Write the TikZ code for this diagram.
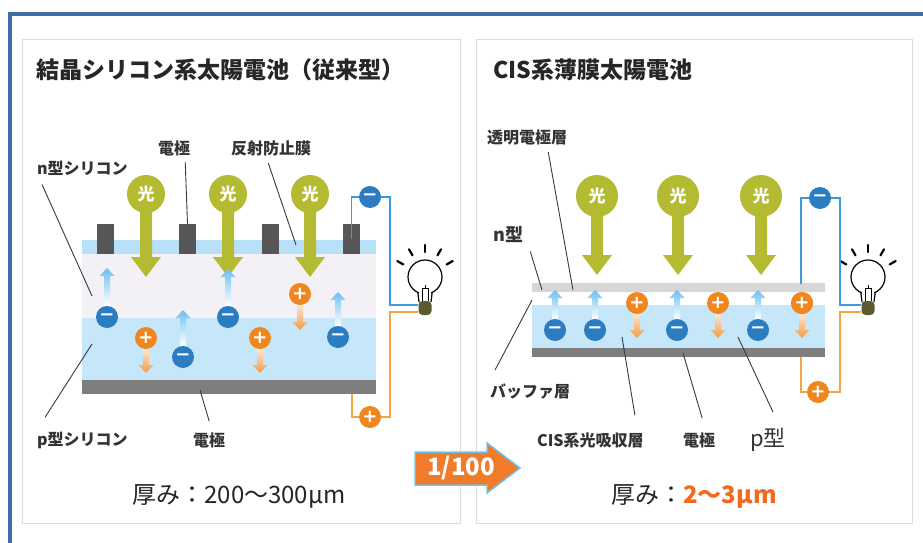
\documentclass[tikz,border=0pt]{standalone}
\usepackage{fontspec}
\setmainfont{Noto Sans CJK JP}
\newfontfamily\signfont{DejaVu Sans}

\definecolor{framec}{HTML}{3F6EA5}
\definecolor{panelgray}{HTML}{DCDCDC}
\definecolor{beamgreen}{HTML}{B4BA32}
\definecolor{filmblue}{HTML}{B8E0F8}
\definecolor{nlayer}{HTML}{F4F1F6}
\definecolor{player}{HTML}{C6E7F9}
\definecolor{electrodedark}{HTML}{565656}
\definecolor{electrodegray}{HTML}{7E7E7E}
\definecolor{tcogray}{HTML}{D7D7D7}
\definecolor{elecblue}{HTML}{2B7CC1}
\definecolor{holeorange}{HTML}{F0871E}
\definecolor{arrowblue}{HTML}{6DC0F0}
\definecolor{arroworange}{HTML}{F39B45}
\definecolor{wireblue}{HTML}{3C9BDB}
\definecolor{wireorange}{HTML}{F3A443}
\definecolor{ratioorange}{HTML}{EF7B2B}
\definecolor{ratioedge}{HTML}{6CC4EC}
\definecolor{thinorange}{HTML}{F26A1F}
\definecolor{leadergray}{HTML}{3A3A3A}
\definecolor{bulbolive}{HTML}{5C5A2E}

\begin{document}
\begin{tikzpicture}[x=1pt,y=-1pt,
    panel/.style={draw=panelgray,line width=1pt},
    title/.style={anchor=west,inner sep=0pt,text=black!85,font=\bfseries\fontsize{23pt}{25pt}\selectfont},
    label/.style={anchor=west,inner sep=1pt,font=\bfseries\fontsize{16pt}{18pt}\selectfont,text=black!80},
    leader/.style={draw=leadergray,line width=0.9pt},
    minus/.style={circle,fill=elecblue,text=white,minimum size=22pt,inner sep=0pt,
        font=\signfont\bfseries\fontsize{18pt}{18pt}\selectfont},
    plus/.style={minus,fill=holeorange},
    sun/.style={circle,fill=beamgreen,text=white,inner sep=0pt,font=\bfseries\fontsize{17pt}{17pt}\selectfont},
    topel/.style={fill=electrodedark,minimum width=17pt,minimum height=30pt,inner sep=0pt},
    socket/.style={fill=bulbolive,minimum width=13pt,minimum height=14pt,inner sep=0pt,rounded corners=4pt},
    bluewire/.style={draw=wireblue,line width=1.6pt},
    orangewire/.style={draw=wireorange,line width=1.6pt},
    thickness/.style={inner sep=0pt,text=black!85,font=\fontsize{24pt}{26pt}\selectfont}]
    \providecommand{\lightbeam}[5]{% name, x, circle y, tip y, radius
        \fill[beamgreen] (#2-6,#3) -- (#2-6,#4-20) -- (#2-15,#4-20) -- (#2,#4)
            -- (#2+15,#4-20) -- (#2+6,#4-20) -- (#2+6,#3) -- cycle;
        \node[sun,minimum size=2*#5] (#1) at (#2,#3) {光};}
    \providecommand{\elecarrow}[3]{% x, centre y, tip y
        \shade[top color=arrowblue,bottom color=white] (#1-3,#2-11) -- (#1-3,#3+8) -- (#1-7.5,#3+8)
            -- (#1,#3) -- (#1+7.5,#3+8) -- (#1+3,#3+8) -- (#1+3,#2-11) -- cycle;}
    \providecommand{\holearrow}[3]{% x, centre y, tip y
        \shade[top color=arroworange!25,bottom color=arroworange] (#1-3,#2+11) -- (#1-3,#3-8) -- (#1-7.5,#3-8)
            -- (#1,#3) -- (#1+7.5,#3-8) -- (#1+3,#3-8) -- (#1+3,#2+11) -- cycle;}
    \providecommand{\lamp}[2]{% name, globe centre
        \begin{scope}[shift={#2}]
            \foreach \a in {150,120,90,60,30}
                \draw[line width=2.2pt,line cap=round] (-\a:25) -- (-\a:32);
            \draw[line width=1.2pt,fill=white] (0,0) circle[radius=17];
            \fill[white] (-6.4,12) rectangle (6.4,26);
            \draw[line width=1.2pt] (-7.2,15.4) -- (-6,25) (7.2,15.4) -- (6,25);
            \draw[line width=0.8pt] (-3,24) -- (-3,11) -- (3,11) -- (3,24) (0,11) -- (0,8);
            \node[socket] (#1) at (0,31) {};
        \end{scope}}

    \useasboundingbox (0,0) rectangle (923,543);
    \fill[white] (0,0) rectangle (923,543);
    \draw[framec,line width=4pt] (10,560) -- (10,14) -- (940,14);
    \draw[panel] (22,40) rectangle (460,523);
    \draw[panel] (476,40) rectangle (912,523);

    \node[title] (ttl1) at (36,70) {結晶シリコン系太陽電池（従来型）};
    \node[title] (ttl2) at (493,70) {CIS系薄膜太陽電池};

    % crystalline silicon cell
    \fill[filmblue] (82,240) rectangle (376,254);
    \fill[nlayer] (82,254) rectangle (376,318);
    \fill[player] (82,318) rectangle (376,380);
    \fill[electrodegray] (82,380) rectangle (376,394);
    \foreach \ex [count=\i] in {105.5,187.5,270.5,351.5}
        \node[topel] (te\i) at (\ex,239) {};
    \coordinate (lbot) at (352,394);

    \lightbeam{ls1}{146}{194}{277}{19}
    \lightbeam{ls2}{228}{194}{277}{19}
    \lightbeam{ls3}{310}{194}{277}{19}

    \foreach \cx/\cy/\tip [count=\i] in {107/317/268,183/357/310,228/317/269,338/337/292}{
        \elecarrow{\cx}{\cy}{\tip}
        \node[minus] (lm\i) at (\cx,\cy) {−};}
    \foreach \cx/\cy/\tip [count=\i] in {146/338/373,260/338/373,300/294/330}{
        \holearrow{\cx}{\cy}{\tip}
        \node[plus] (lp\i) at (\cx,\cy) {+};}

    % CIS thin film cell
    \fill[tcogray] (532,283) rectangle (825,292);
    \fill[player] (532,305) rectangle (825,348);
    \fill[electrodegray] (532,348) rectangle (825,357);
    \coordinate (rtop) at (801,284);
    \coordinate (rbot) at (801,357);

    \lightbeam{rs1}{597}{196}{275}{21}
    \lightbeam{rs2}{678}{196}{275}{21}
    \lightbeam{rs3}{761}{196}{275}{21}

    \foreach \cx [count=\i] in {555,595,677,758}{
        \elecarrow{\cx}{330}{290}
        \node[minus] (rm\i) at (\cx,330) {−};}
    \foreach \cx [count=\i] in {637,718,802}{
        \holearrow{\cx}{303}{338}
        \node[plus] (rp\i) at (\cx,303) {+};}

    % circuits and lamps
    \lamp{sk1}{(425,277)}
    \lamp{sk2}{(868,277)}
    \node[minus] (em1) at (370,197) {−};
    \node[plus] (hp1) at (370,417) {+};
    \node[minus] (em2) at (820,198) {−};
    \node[plus] (hp2) at (818,392) {+};
    \coordinate (bend1) at (390,305);
    \coordinate (bend2) at (390,312);
    \coordinate (bend3) at (840,305);
    \coordinate (bend4) at (840,312);
    \draw[bluewire] (te4.center) |- (em1.west);
    \draw[bluewire] (em1.east) -| (bend1) -- (bend1 -| sk1.west);
    \draw[orangewire] (lbot) |- (hp1.west);
    \draw[orangewire] (hp1.east) -| (bend2) -- (bend2 -| sk1.west);
    \draw[bluewire] (rtop) |- (em2.west);
    \draw[bluewire] (em2.east) -| (bend3) -- (bend3 -| sk2.west);
    \draw[orangewire] (rbot) |- (hp2.west);
    \draw[orangewire] (hp2.east) -| (bend4) -- (bend4 -| sk2.west);
    \node[plus] at (rp3) {+};

    % labels
    \node[label] (nsi) at (36,168) {n型シリコン};
    \node[label] (el1) at (157,148) {電極};
    \node[label] (arc) at (230,148) {反射防止膜};
    \node[label] (psi) at (36,440) {p型シリコン};
    \node[label] (el2) at (192,440) {電極};
    \coordinate (nsipt) at (92,296);
    \coordinate (arcpt) at (296,245);
    \coordinate (psipt) at (92,344);
    \coordinate (el2pt) at (200,390);
    \draw[leader] ([shift={(6,8)}]nsi.south west) -- (nsipt);
    \draw[leader] ([shift={(11,5)}]el1.south) -- (te2.north);
    \draw[leader] ([shift={(-3,6)}]arc.south) -- (arcpt);
    \draw[leader] ([shift={(9,-13)}]psi.north west) -- (psipt);
    \draw[leader] ([shift={(0,-10)}]el2.north) -- (el2pt);

    \node[label] (tco) at (486,137) {透明電極層};
    \node[label,font=\bfseries\fontsize{18pt}{20pt}\selectfont] (ntype) at (492,235) {n型};
    \node[label] (buf) at (489,392) {バッファ層};
    \node[label] (cis) at (536,440) {CIS系光吸収層};
    \node[label] (el3) at (682,440) {電極};
    \node[label,font=\fontsize{22pt}{24pt}\selectfont] (ptype) at (749,440) {p型};
    \coordinate (tcopt) at (573,290);
    \coordinate (ntypept) at (542,290);
    \coordinate (bufpt) at (532,300);
    \coordinate (cispt) at (622,337);
    \coordinate (el3pt) at (683,353);
    \coordinate (ptypept) at (738,337);
    \draw[leader] ([shift={(21,6)}]tco.south) -- (tcopt);
    \draw[leader] ([shift={(6,7)}]ntype.south east) -- (ntypept);
    \draw[leader] ([shift={(6,-13)}]buf.north west) -- (bufpt);
    \draw[leader] ([shift={(-10,-16)}]cis.north east) -- (cispt);
    \draw[leader] ([shift={(3,-13)}]el3.north) -- (el3pt);
    \draw[leader] ([shift={(5,-15)}]ptype.north) -- (ptypept);

    % ratio arrow and thickness
    \draw[fill=ratioorange,draw=ratioedge,line width=1.5pt] (415,452) -- (487,452) -- (487,443)
        -- (520,468) -- (487,493) -- (487,485) -- (415,485) -- cycle;
    \node[inner sep=0pt,text=white,font=\bfseries\fontsize{24pt}{24pt}\selectfont] (ratio) at (461,468) {1/100};
    \node[thickness] (thk1) at (239,496) {厚み：200〜300µm};
    \node[thickness] (thk2) at (694,496) {厚み：\textcolor{thinorange}{\bfseries 2〜3µm}};
\end{tikzpicture}
\end{document}
